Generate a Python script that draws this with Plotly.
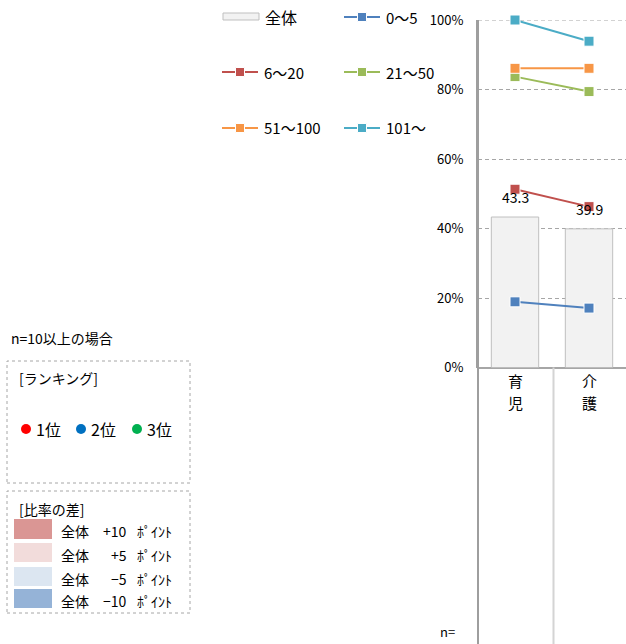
import plotly.graph_objects as go

# ---- data ----
categories = ["育児", "介護"]
total = [43.3, 39.9]
series_names = ["0～5", "6～20", "21～50", "51～100", "101～"]
s_0_5 = [18.9, 17.1]
s_6_20 = [51.3, 46.3]
s_21_50 = [83.7, 79.4]
s_51_100 = [86.1, 86.1]
s_101 = [100.0, 93.9]
series_values = [s_0_5, s_6_20, s_21_50, s_51_100, s_101]
series_colors = ["#4F81BD", "#C0504D", "#9BBB59", "#F79646", "#4BACC6"]
y_ticks = [0, 20, 40, 60, 80, 100]
y_tick_labels = ["0%", "20%", "40%", "60%", "80%", "100%"]

W, H = 626, 644
FONT = "Noto Sans CJK JP, Arial, sans-serif"
GRID = "#A6A6A6"


def px(x):
    return x / W


def py(y):
    return 1 - y / H


def text(x, y, s, size, anchor="left"):
    return dict(x=px(x), y=py(y), xref="paper", yref="paper", text=s,
                showarrow=False, xanchor=anchor, yanchor="middle",
                font=dict(size=size, color="#000", family=FONT))


fig = go.Figure()
fig.add_trace(go.Bar(
    x=categories, y=total, width=0.64,
    marker=dict(color="#F2F2F2", line=dict(color="#BFBFBF", width=1)),
    showlegend=False, hoverinfo="skip"))
for name, vals, col in zip(series_names, series_values, series_colors):
    fig.add_trace(go.Scatter(
        x=categories, y=vals, mode="lines+markers", name=name,
        line=dict(color=col, width=2), cliponaxis=False,
        marker=dict(symbol="square", size=10, color=col,
                    line=dict(color="white", width=1)),
        showlegend=False))

annotations = []
shapes = []
# value labels on bars
for c, v in zip(categories, total):
    annotations.append(dict(x=c, y=v, xref="x", yref="y", text=f"{v:.1f}",
                            showarrow=False, yshift=20, yanchor="middle",
                            font=dict(size=14, color="#000", family=FONT)))
# vertical category labels (one character per line)
for c in categories:
    for i, ch in enumerate(c):
        annotations.append(dict(x=c, y=py(380.5 + 22 * i), xref="x", yref="paper",
                                text=ch, showarrow=False, borderpad=0,
                                xanchor="center", yanchor="middle",
                                font=dict(size=15, color="#000", family=FONT)))

# top gridline at 100%
shapes.append(dict(type="line", xref="paper", yref="y", layer="below",
                   x0=px(478), x1=1, y0=100, y1=100,
                   line=dict(color=GRID, width=1, dash="4px,3px")))
# axis line extending down, and category separator
shapes.append(dict(type="line", xref="paper", yref="paper",
                   x0=px(478), x1=px(478), y0=py(20), y1=0,
                   line=dict(color="#9E9E9E", width=2)))
shapes.append(dict(type="line", xref="paper", yref="paper",
                   x0=px(553.5), x1=px(553.5), y0=py(367.5), y1=0,
                   line=dict(color="#D4D4D4", width=2)))

# ---- manual legend ----
legend_rows = [17, 72, 128]
shapes.append(dict(type="rect", xref="paper", yref="paper",
                   x0=px(223), x1=px(259), y0=py(20), y1=py(13),
                   fillcolor="#F2F2F2", line=dict(color="#BFBFBF", width=1)))
annotations.append(text(263, 17, "全体", 16))
slots = [(1, 0), (0, 1), (1, 1), (0, 2), (1, 2)]
for (colidx, row), name, col in zip(slots, series_names, series_colors):
    x0 = 222 if colidx == 0 else 344
    x1 = x0 + 36
    ym = legend_rows[row]
    xm = (x0 + x1) / 2
    shapes.append(dict(type="line", xref="paper", yref="paper",
                       x0=px(x0), x1=px(x1), y0=py(ym), y1=py(ym),
                       line=dict(color=col, width=2)))
    shapes.append(dict(type="rect", xref="paper", yref="paper",
                       x0=px(xm - 4.5), x1=px(xm + 4.5), y0=py(ym + 4.5), y1=py(ym - 4.5),
                       fillcolor=col, line=dict(color="white", width=1)))
    annotations.append(text(x1 + 4, ym, name, 15))

# ---- left info boxes ----
annotations.append(text(9, 338, "n=10以上の場合", 14))
for (y0, y1) in [(361, 483), (491, 613)]:
    shapes.append(dict(type="rect", xref="paper", yref="paper",
                       x0=px(7), x1=px(190), y0=py(y1), y1=py(y0),
                       line=dict(color="#A6A6A6", width=1, dash="dot")))
annotations.append(text(17, 378, "[ランキング]", 14))
rank_items = [("1位", "#FF0000", 26), ("2位", "#0070C0", 81), ("3位", "#00B050", 137)]
for label, col, cx in rank_items:
    shapes.append(dict(type="circle", xref="paper", yref="paper",
                       x0=px(cx - 5), x1=px(cx + 5), y0=py(434), y1=py(424),
                       fillcolor=col, line=dict(width=0)))
    annotations.append(text(cx + 8, 429, label, 16))
annotations.append(text(17, 509, "[比率の差]", 14))
diff_items = [("+10", "#DA9694", 519, 539), ("+5", "#F2DCDB", 543, 562),
              ("−5", "#DCE6F1", 567, 586), ("−10", "#95B3D7", 589, 608)]
for val, col, y0, y1 in diff_items:
    shapes.append(dict(type="rect", xref="paper", yref="paper",
                       x0=px(14), x1=px(52), y0=py(y1), y1=py(y0),
                       fillcolor=col, line=dict(width=0)))
    ym = (y0 + y1) / 2 + 2
    annotations.append(text(59, ym, "全体", 14))
    annotations.append(text(129, ym, val, 14, anchor="right"))
    annotations.append(text(135, ym, "ﾎﾟｲﾝﾄ", 14))

annotations.append(text(438, 631, "n=", 13))

fig.update_layout(
    width=W, height=H,
    margin=dict(l=0, r=0, t=0, b=0, autoexpand=False),
    paper_bgcolor="white", plot_bgcolor="white",
    showlegend=False,
    xaxis=dict(domain=[478 / W, 1], range=[-0.5, 1.5], type="category",
               showgrid=False, zeroline=False, showline=False, ticks="",
               showticklabels=False, fixedrange=True),
    yaxis=dict(domain=[1 - 367.5 / H, 1 - 20 / H], range=[0, 100],
               tickvals=y_ticks, ticktext=y_tick_labels,
               showgrid=True, gridcolor=GRID, griddash="4px,3px", gridwidth=1,
               zeroline=True, zerolinecolor="#A6A6A6", zerolinewidth=2,
               showline=True, linecolor="#9E9E9E", linewidth=2,
               ticks="", ticklabelstandoff=10,
               tickfont=dict(size=13, color="#000", family=FONT),
               fixedrange=True),
    annotations=annotations,
    shapes=shapes,
)

fig.write_html("out.html")
